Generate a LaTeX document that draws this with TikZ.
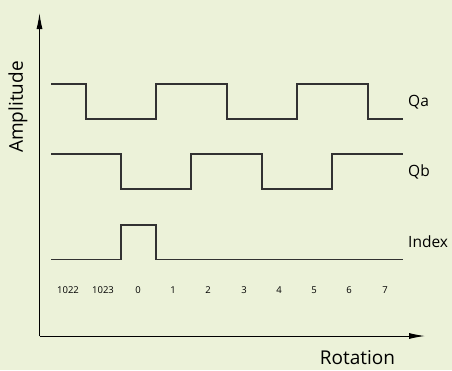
\documentclass[tikz,border=0pt]{standalone}
\usepackage{fontspec}
\setmainfont{Open Sans}
\usetikzlibrary{arrows.meta}
\definecolor{bg}{RGB}{236,242,217}
\definecolor{wave}{RGB}{50,50,50}
\tikzset{
  axis/.style={line width=1pt, black, -{Latex[length=16pt,width=6pt]}},
  sig/.style={line width=1.2pt, wave},
  siglabel/.style={anchor=west, font=\fontsize{15.5}{15.5}\selectfont, inner sep=0pt},
  ticklabel/.style={font=\fontsize{9.5}{9.5}\selectfont, inner sep=0pt},
  axlabel/.style={font=\fontsize{19}{19}\selectfont, inner sep=0pt}
}
\begin{document}
\begin{tikzpicture}[x=1pt,y=-1pt]
\fill[bg] (0,0) rectangle (452,370);
\useasboundingbox (0,0) rectangle (452,370);
% axes
\coordinate (O) at (39.5,336);
\coordinate (Ytop) at (39.5,13);
\coordinate (Xend) at (425,336);
\draw[axis] (O) -- (Ytop);
\draw[axis] (O) -- (Xend);
% Qa
\coordinate (qa0) at (51,84);
\coordinate (qa1) at (403,119);
\draw[sig] (qa0) -- (86,84) -- (86,119) -- (156,119) -- (156,84) -- (227,84) -- (227,119) -- (297,119) -- (297,84) -- (368,84) -- (368,119) -- (qa1);
% Qb
\coordinate (qb0) at (51,154);
\coordinate (qb1) at (403,154);
\draw[sig] (qb0) -- (121,154) -- (121,189) -- (191,189) -- (191,154) -- (262,154) -- (262,189) -- (332,189) -- (332,154) -- (qb1);
% Index
\coordinate (ix0) at (51,259.5);
\coordinate (ix1) at (403,259.5);
\draw[sig] (ix0) -- (121,259.5) -- (121,225) -- (156,225) -- (156,259.5) -- (ix1);
% labels
\node[siglabel] (lqa) at (408,102) {Qa};
\node[siglabel] (lqb) at (408,172) {Qb};
\node[siglabel] (lix) at (408,242) {Index};
\node[ticklabel] (t1) at (68,290) {1022};
\node[ticklabel] (t2) at (103,290) {1023};
\node[ticklabel] (t3) at (138,290) {0};
\node[ticklabel] (t4) at (173,290) {1};
\node[ticklabel] (t5) at (208,290) {2};
\node[ticklabel] (t6) at (244,290) {3};
\node[ticklabel] (t7) at (279,290) {4};
\node[ticklabel] (t8) at (314,290) {5};
\node[ticklabel] (t9) at (349,290) {6};
\node[ticklabel] (t10) at (385,290) {7};
\node[axlabel, rotate=90, anchor=base] (amp) at (23,107) {Amplitude};
\node[axlabel, anchor=base] (rot) at (357.5,364) {Rotation};
\end{tikzpicture}
\end{document}
